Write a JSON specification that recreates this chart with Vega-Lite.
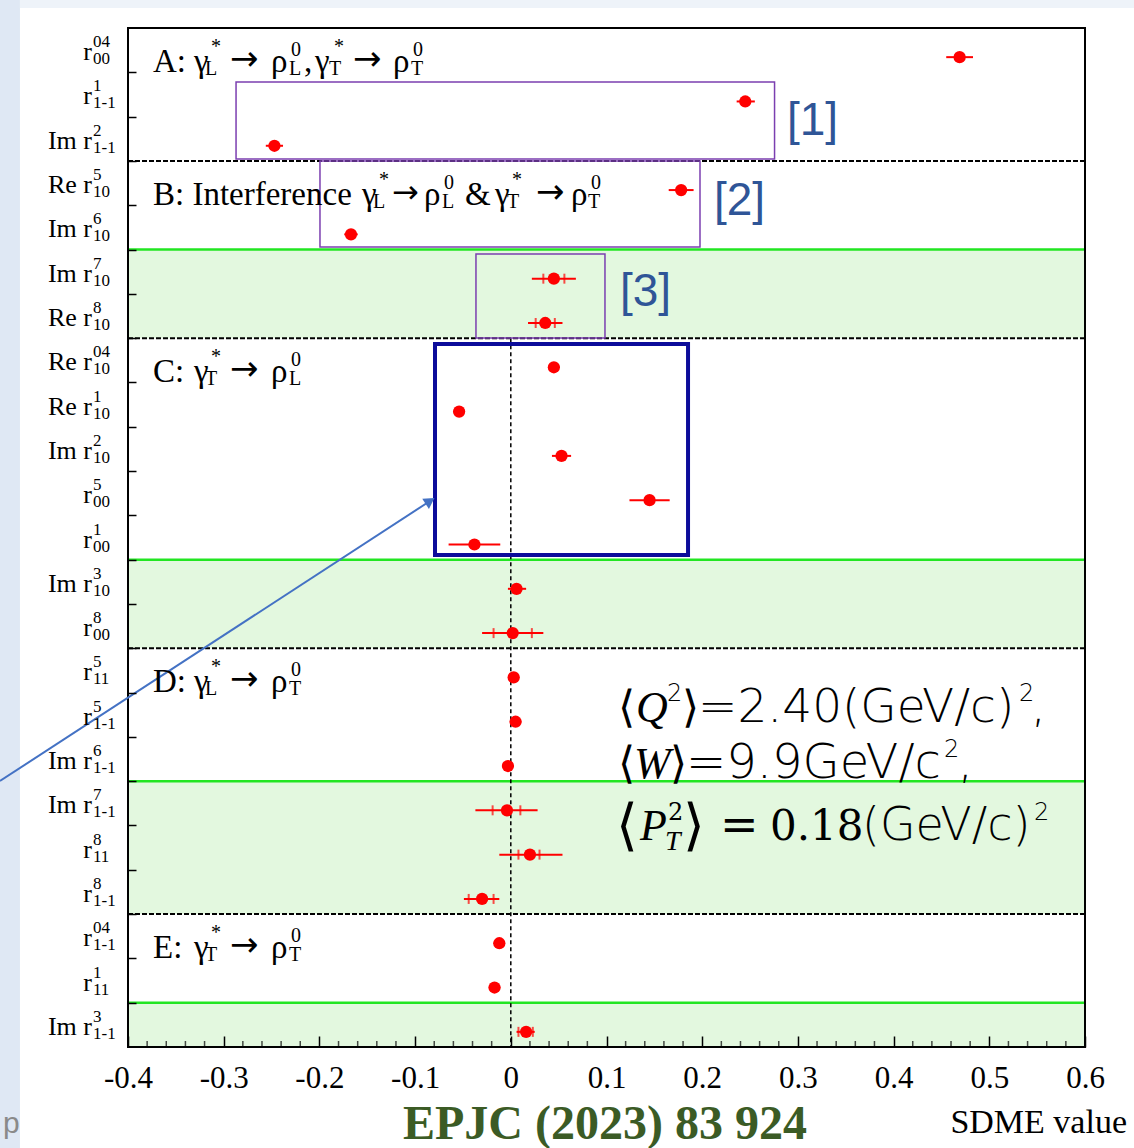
{
  "$schema": "https://vega.github.io/schema/vega-lite/v6.json",
  "width": 957,
  "height": 1019,
  "autosize": {"type": "none"},
  "padding": {"left": 128, "top": 28, "right": 49, "bottom": 101},
  "background": "white",
  "config": {
    "view": {"stroke": null},
    "text": {"font": "Liberation Serif", "color": "black", "align": "left", "baseline": "alphabetic"}
  },
  "datasets": {
    "rows": [
      {"row": 0, "name": "r", "sup": "04", "sub": "00", "v": 0.469, "lo": 0.455, "hi": 0.483},
      {"row": 1, "name": "r", "sup": "1", "sub": "1-1", "v": 0.245, "lo": 0.236, "hi": 0.255},
      {"row": 2, "name": "Im r", "sup": "2", "sub": "1-1", "v": -0.247, "lo": -0.256, "hi": -0.238},
      {"row": 3, "name": "Re r", "sup": "5", "sub": "10", "v": 0.178, "lo": 0.165, "hi": 0.191},
      {"row": 4, "name": "Im r", "sup": "6", "sub": "10", "v": -0.167, "lo": -0.174, "hi": -0.16},
      {"row": 5, "name": "Im r", "sup": "7", "sub": "10", "v": 0.045, "lo": 0.022, "hi": 0.068, "slo": 0.034, "shi": 0.056},
      {"row": 6, "name": "Re r", "sup": "8", "sub": "10", "v": 0.036, "lo": 0.018, "hi": 0.054, "slo": 0.026, "shi": 0.046},
      {"row": 7, "name": "Re r", "sup": "04", "sub": "10", "v": 0.045, "lo": 0.039, "hi": 0.051},
      {"row": 8, "name": "Re r", "sup": "1", "sub": "10", "v": -0.054, "lo": -0.06, "hi": -0.048},
      {"row": 9, "name": "Im r", "sup": "2", "sub": "10", "v": 0.053, "lo": 0.043, "hi": 0.063},
      {"row": 10, "name": "r", "sup": "5", "sub": "00", "v": 0.145, "lo": 0.124, "hi": 0.166},
      {"row": 11, "name": "r", "sup": "1", "sub": "00", "v": -0.038, "lo": -0.065, "hi": -0.011},
      {"row": 12, "name": "Im r", "sup": "3", "sub": "10", "v": 0.006, "lo": -0.003, "hi": 0.016},
      {"row": 13, "name": "r", "sup": "8", "sub": "00", "v": 0.002, "lo": -0.03, "hi": 0.034, "slo": -0.018, "shi": 0.022},
      {"row": 14, "name": "r", "sup": "5", "sub": "11", "v": 0.003, "lo": -0.003, "hi": 0.009},
      {"row": 15, "name": "r", "sup": "5", "sub": "1-1", "v": 0.005, "lo": -0.001, "hi": 0.011},
      {"row": 16, "name": "Im r", "sup": "6", "sub": "1-1", "v": -0.003, "lo": -0.009, "hi": 0.003},
      {"row": 17, "name": "Im r", "sup": "7", "sub": "1-1", "v": -0.004, "lo": -0.037, "hi": 0.028, "slo": -0.019, "shi": 0.01},
      {"row": 18, "name": "r", "sup": "8", "sub": "11", "v": 0.02, "lo": -0.012, "hi": 0.054, "slo": 0.008, "shi": 0.03},
      {"row": 19, "name": "r", "sup": "8", "sub": "1-1", "v": -0.03, "lo": -0.049, "hi": -0.012, "slo": -0.044, "shi": -0.018},
      {"row": 20, "name": "r", "sup": "04", "sub": "1-1", "v": -0.012, "lo": -0.018, "hi": -0.006},
      {"row": 21, "name": "r", "sup": "1", "sub": "11", "v": -0.017, "lo": -0.023, "hi": -0.011},
      {"row": 22, "name": "Im r", "sup": "3", "sub": "1-1", "v": 0.016, "lo": 0.006, "hi": 0.025, "slo": 0.008, "shi": 0.023}
    ],
    "groups": [
      {"row": 0, "tag": "A:", "from": "L", "to": "L"},
      {"row": 7, "tag": "C:", "from": "T", "to": "L"},
      {"row": 14, "tag": "D:", "from": "L", "to": "T"},
      {"row": 20, "tag": "E:", "from": "T", "to": "T"}
    ],
    "bands": [
      {"first": 5, "last": 6},
      {"first": 12, "last": 13},
      {"first": 17, "last": 19},
      {"first": 22, "last": 22}
    ],
    "seps": [{"after": 2}, {"after": 6}, {"after": 13}, {"after": 19}],
    "minorTicks": [
      {"at": -0.38}, {"at": -0.36}, {"at": -0.34}, {"at": -0.32},
      {"at": -0.28}, {"at": -0.26}, {"at": -0.24}, {"at": -0.22},
      {"at": -0.18}, {"at": -0.16}, {"at": -0.14}, {"at": -0.12},
      {"at": -0.08}, {"at": -0.06}, {"at": -0.04}, {"at": -0.02},
      {"at": 0.02}, {"at": 0.04}, {"at": 0.06}, {"at": 0.08},
      {"at": 0.12}, {"at": 0.14}, {"at": 0.16}, {"at": 0.18},
      {"at": 0.22}, {"at": 0.24}, {"at": 0.26}, {"at": 0.28},
      {"at": 0.32}, {"at": 0.34}, {"at": 0.36}, {"at": 0.38},
      {"at": 0.42}, {"at": 0.44}, {"at": 0.46}, {"at": 0.48},
      {"at": 0.52}, {"at": 0.54}, {"at": 0.56}, {"at": 0.58}
    ],
    "one": [{}]
  },
  "layer": [
    {
      "data": {"name": "one"},
      "mark": {"type": "rect", "fill": "#dfe8f4"},
      "encoding": {
        "x": {"datum": -0.5338},
        "x2": {"datum": -0.5129},
        "y": {"datum": -1.132},
        "y2": {"datum": 24.78}
      }
    },
    {
      "data": {"name": "one"},
      "mark": {"type": "rect", "fill": "#eef3f9"},
      "encoding": {
        "x": {"datum": -0.5129},
        "x2": {"datum": 0.6512},
        "y": {"datum": -1.132},
        "y2": {"datum": -0.951}
      }
    },
    {
      "data": {"name": "bands"},
      "mark": {"type": "rect", "fill": "#e3f8df", "yOffset": -22.15, "y2Offset": 22.15},
      "encoding": {
        "x": {"datum": -0.4},
        "x2": {"datum": 0.6},
        "y": {"field": "first", "type": "quantitative", "title": null},
        "y2": {"field": "last"}
      }
    },
    {
      "data": {"name": "bands"},
      "mark": {"type": "rule", "stroke": "#22e622", "strokeWidth": 2.5, "yOffset": -22.15},
      "encoding": {
        "x": {"datum": -0.4},
        "x2": {"datum": 0.6},
        "y": {"field": "first", "type": "quantitative", "title": null}
      }
    },
    {
      "data": {"name": "seps"},
      "mark": {"type": "rule", "stroke": "black", "strokeWidth": 2, "strokeDash": [5, 2], "yOffset": 22.15},
      "encoding": {
        "x": {"datum": -0.4},
        "x2": {"datum": 0.6},
        "y": {"field": "after", "type": "quantitative", "title": null}
      }
    },
    {
      "data": {"name": "one"},
      "mark": {"type": "rule", "stroke": "black", "strokeWidth": 1.5, "strokeDash": [4, 3]},
      "encoding": {
        "x": {"datum": 0},
        "y": {"datum": 6.5},
        "y2": {"datum": 22.5}
      }
    },
    {
      "data": {"name": "minorTicks"},
      "mark": {"type": "tick", "orient": "vertical", "color": "black", "size": 6, "thickness": 1.5, "yOffset": -3},
      "encoding": {
        "x": {"field": "at", "type": "quantitative", "title": null},
        "y": {"datum": 22.5}
      }
    },
    {
      "data": {"name": "one"},
      "mark": {"type": "rect", "fillOpacity": 0, "stroke": "black", "strokeWidth": 2},
      "encoding": {
        "x": {"datum": -0.4},
        "x2": {"datum": 0.6},
        "y": {"datum": -0.5},
        "y2": {"datum": 22.5}
      }
    },
    {
      "data": {"name": "one"},
      "mark": {"type": "rect", "fillOpacity": 0, "stroke": "#7b3fb0", "strokeWidth": 1.5},
      "encoding": {"x": {"datum": -0.2871}, "x2": {"datum": 0.2756}, "y": {"datum": 0.719}, "y2": {"datum": 2.457}}
    },
    {
      "data": {"name": "one"},
      "mark": {"type": "rect", "fillOpacity": 0, "stroke": "#7b3fb0", "strokeWidth": 1.5},
      "encoding": {"x": {"datum": -0.1994}, "x2": {"datum": 0.1977}, "y": {"datum": 2.502}, "y2": {"datum": 4.443}}
    },
    {
      "data": {"name": "one"},
      "mark": {"type": "rect", "fillOpacity": 0, "stroke": "#7b3fb0", "strokeWidth": 1.5},
      "encoding": {"x": {"datum": -0.0364}, "x2": {"datum": 0.0984}, "y": {"datum": 4.601}, "y2": {"datum": 6.497}}
    },
    {
      "data": {"name": "one"},
      "mark": {"type": "rect", "fillOpacity": 0, "stroke": "#0c0c9a", "strokeWidth": 4},
      "encoding": {"x": {"datum": -0.0792}, "x2": {"datum": 0.1852}, "y": {"datum": 6.632}, "y2": {"datum": 11.395}}
    },
    {
      "data": {"name": "one"},
      "mark": {"type": "rule", "stroke": "#4472c4", "strokeWidth": 2},
      "encoding": {"x": {"datum": -0.5338}, "x2": {"datum": -0.0844}, "y": {"datum": 16.496}, "y2": {"datum": 10.176}}
    },
    {
      "data": {"name": "one"},
      "mark": {"type": "point", "shape": "triangle-right", "filled": true, "color": "#4472c4", "size": 150, "angle": 327, "opacity": 1},
      "encoding": {"x": {"datum": -0.0844}, "y": {"datum": 10.176}}
    },
    {
      "data": {"name": "rows"},
      "mark": {"type": "rule", "color": "red", "strokeWidth": 2, "yOffset": 7},
      "encoding": {
        "x": {"field": "lo", "type": "quantitative", "title": null},
        "x2": {"field": "hi"},
        "y": {"field": "row", "type": "quantitative", "title": null}
      }
    },
    {
      "data": {"name": "rows"},
      "mark": {"type": "tick", "color": "red", "thickness": 2, "size": 10, "orient": "vertical", "yOffset": 7},
      "encoding": {
        "x": {"field": "slo", "type": "quantitative", "title": null},
        "y": {"field": "row", "type": "quantitative", "title": null}
      }
    },
    {
      "data": {"name": "rows"},
      "mark": {"type": "tick", "color": "red", "thickness": 2, "size": 10, "orient": "vertical", "yOffset": 7},
      "encoding": {
        "x": {"field": "shi", "type": "quantitative", "title": null},
        "y": {"field": "row", "type": "quantitative", "title": null}
      }
    },
    {
      "data": {"name": "rows"},
      "mark": {"type": "point", "filled": true, "color": "red", "size": 150, "opacity": 1, "yOffset": 7},
      "encoding": {
        "x": {
          "field": "v", "type": "quantitative", "title": null,
          "scale": {"domain": [-0.4, 0.6], "nice": false, "zero": false},
          "axis": {
            "orient": "bottom", "offset": -11, "zindex": 1, "domain": false, "grid": false, "title": null,
            "values": [-0.4, -0.3, -0.2, -0.1, 0, 0.1, 0.2, 0.3, 0.4, 0.5, 0.6],
            "ticks": true, "tickSize": 11, "tickColor": "black", "tickWidth": 1.5,
            "labelExpr": "(datum.value < -0.001 ? '-' : '') + format(abs(datum.value), '.1~f')",
            "labelFont": "Liberation Serif", "labelFontSize": 31, "labelColor": "black",
            "labelBaseline": "alphabetic", "labelPadding": 40, "labelOverlap": false, "labelFlush": false, "labelBound": false
          }
        },
        "y": {
          "field": "row", "type": "quantitative", "title": null,
          "scale": {"domain": [-0.5, 22.5], "reverse": true, "nice": false, "zero": false},
          "axis": {"orient": "left", "offset": -8, "values": [0.5, 1.5, 2.5, 3.5, 4.5, 5.5, 6.5, 7.5, 8.5, 9.5, 10.5, 11.5, 12.5, 13.5, 14.5, 15.5, 16.5, 17.5, 18.5, 19.5, 20.5, 21.5], "zindex": 1, "domain": false, "grid": false, "labels": false, "ticks": true, "tickSize": 8, "tickColor": "black", "tickWidth": 1.5, "title": null}
        }
      }
    },
    {
      "data": {"name": "rows"},
      "mark": {"type": "text", "align": "right", "fontSize": 26, "dx": -36, "dy": 10},
      "encoding": {"x": {"datum": -0.4}, "y": {"field": "row", "type": "quantitative", "title": null}, "text": {"field": "name"}}
    },
    {
      "data": {"name": "rows"},
      "mark": {"type": "text", "fontSize": 17, "dx": -35, "dy": -3},
      "encoding": {"x": {"datum": -0.4}, "y": {"field": "row", "type": "quantitative", "title": null}, "text": {"field": "sup"}}
    },
    {
      "data": {"name": "rows"},
      "mark": {"type": "text", "fontSize": 17, "dx": -35, "dy": 14},
      "encoding": {"x": {"datum": -0.4}, "y": {"field": "row", "type": "quantitative", "title": null}, "text": {"field": "sub"}}
    },
    {
      "data": {"name": "groups"},
      "mark": {"type": "text", "fontSize": 33, "dx": 25, "dy": 22},
      "encoding": {"x": {"datum": -0.4}, "y": {"field": "row", "type": "quantitative", "title": null}, "text": {"field": "tag"}}
    },
    {
      "data": {"name": "groups"},
      "mark": {"type": "text", "text": "γ", "fontSize": 33, "dx": 66, "dy": 22},
      "encoding": {"x": {"datum": -0.4}, "y": {"field": "row", "type": "quantitative", "title": null}}
    },
    {
      "data": {"name": "groups"},
      "mark": {"type": "text", "text": "*", "fontSize": 20, "dx": 83, "dy": 3},
      "encoding": {"x": {"datum": -0.4}, "y": {"field": "row", "type": "quantitative", "title": null}}
    },
    {
      "data": {"name": "groups"},
      "mark": {"type": "text", "fontSize": 20, "dx": 77, "dy": 25},
      "encoding": {"x": {"datum": -0.4}, "y": {"field": "row", "type": "quantitative", "title": null}, "text": {"field": "from"}}
    },
    {
      "data": {"name": "groups"},
      "mark": {"type": "text", "text": "→", "font": "DejaVu Sans", "fontSize": 34, "dx": 102, "dy": 20},
      "encoding": {"x": {"datum": -0.4}, "y": {"field": "row", "type": "quantitative", "title": null}}
    },
    {
      "data": {"name": "groups"},
      "mark": {"type": "text", "text": "ρ", "fontSize": 33, "dx": 143, "dy": 22},
      "encoding": {"x": {"datum": -0.4}, "y": {"field": "row", "type": "quantitative", "title": null}}
    },
    {
      "data": {"name": "groups"},
      "mark": {"type": "text", "text": "0", "fontSize": 20, "dx": 163, "dy": 6},
      "encoding": {"x": {"datum": -0.4}, "y": {"field": "row", "type": "quantitative", "title": null}}
    },
    {
      "data": {"name": "groups"},
      "mark": {"type": "text", "fontSize": 20, "dx": 161, "dy": 25},
      "encoding": {"x": {"datum": -0.4}, "y": {"field": "row", "type": "quantitative", "title": null}, "text": {"field": "to"}}
    },
    {"data": {"name": "one"}, "mark": {"type": "text", "text": ",", "fontSize": 33, "dx": 176, "dy": 22}, "encoding": {"x": {"datum": -0.4}, "y": {"datum": 0}}},
    {"data": {"name": "one"}, "mark": {"type": "text", "text": "γ", "fontSize": 33, "dx": 187, "dy": 22}, "encoding": {"x": {"datum": -0.4}, "y": {"datum": 0}}},
    {"data": {"name": "one"}, "mark": {"type": "text", "text": "*", "fontSize": 20, "dx": 206, "dy": 3}, "encoding": {"x": {"datum": -0.4}, "y": {"datum": 0}}},
    {"data": {"name": "one"}, "mark": {"type": "text", "text": "T", "fontSize": 20, "dx": 201, "dy": 25}, "encoding": {"x": {"datum": -0.4}, "y": {"datum": 0}}},
    {"data": {"name": "one"}, "mark": {"type": "text", "text": "→", "font": "DejaVu Sans", "fontSize": 34, "dx": 225, "dy": 20}, "encoding": {"x": {"datum": -0.4}, "y": {"datum": 0}}},
    {"data": {"name": "one"}, "mark": {"type": "text", "text": "ρ", "fontSize": 33, "dx": 265, "dy": 22}, "encoding": {"x": {"datum": -0.4}, "y": {"datum": 0}}},
    {"data": {"name": "one"}, "mark": {"type": "text", "text": "0", "fontSize": 20, "dx": 285, "dy": 6}, "encoding": {"x": {"datum": -0.4}, "y": {"datum": 0}}},
    {"data": {"name": "one"}, "mark": {"type": "text", "text": "T", "fontSize": 20, "dx": 283, "dy": 25}, "encoding": {"x": {"datum": -0.4}, "y": {"datum": 0}}},
    {"data": {"name": "one"}, "mark": {"type": "text", "text": "B: Interference", "fontSize": 33, "dx": 25, "dy": 22}, "encoding": {"x": {"datum": -0.4}, "y": {"datum": 3}}},
    {"data": {"name": "one"}, "mark": {"type": "text", "text": "γ", "fontSize": 33, "dx": 234, "dy": 22}, "encoding": {"x": {"datum": -0.4}, "y": {"datum": 3}}},
    {"data": {"name": "one"}, "mark": {"type": "text", "text": "*", "fontSize": 20, "dx": 251, "dy": 3}, "encoding": {"x": {"datum": -0.4}, "y": {"datum": 3}}},
    {"data": {"name": "one"}, "mark": {"type": "text", "text": "L", "fontSize": 20, "dx": 245, "dy": 25}, "encoding": {"x": {"datum": -0.4}, "y": {"datum": 3}}},
    {"data": {"name": "one"}, "mark": {"type": "text", "text": "→", "font": "DejaVu Sans", "fontSize": 32, "dx": 264, "dy": 20}, "encoding": {"x": {"datum": -0.4}, "y": {"datum": 3}}},
    {"data": {"name": "one"}, "mark": {"type": "text", "text": "ρ", "fontSize": 33, "dx": 296, "dy": 22}, "encoding": {"x": {"datum": -0.4}, "y": {"datum": 3}}},
    {"data": {"name": "one"}, "mark": {"type": "text", "text": "0", "fontSize": 20, "dx": 316, "dy": 6}, "encoding": {"x": {"datum": -0.4}, "y": {"datum": 3}}},
    {"data": {"name": "one"}, "mark": {"type": "text", "text": "L", "fontSize": 20, "dx": 314, "dy": 25}, "encoding": {"x": {"datum": -0.4}, "y": {"datum": 3}}},
    {"data": {"name": "one"}, "mark": {"type": "text", "text": "&", "fontSize": 33, "dx": 337, "dy": 22}, "encoding": {"x": {"datum": -0.4}, "y": {"datum": 3}}},
    {"data": {"name": "one"}, "mark": {"type": "text", "text": "γ", "fontSize": 33, "dx": 367, "dy": 22}, "encoding": {"x": {"datum": -0.4}, "y": {"datum": 3}}},
    {"data": {"name": "one"}, "mark": {"type": "text", "text": "*", "fontSize": 20, "dx": 384, "dy": 3}, "encoding": {"x": {"datum": -0.4}, "y": {"datum": 3}}},
    {"data": {"name": "one"}, "mark": {"type": "text", "text": "T", "fontSize": 20, "dx": 379, "dy": 25}, "encoding": {"x": {"datum": -0.4}, "y": {"datum": 3}}},
    {"data": {"name": "one"}, "mark": {"type": "text", "text": "→", "font": "DejaVu Sans", "fontSize": 34, "dx": 408, "dy": 20}, "encoding": {"x": {"datum": -0.4}, "y": {"datum": 3}}},
    {"data": {"name": "one"}, "mark": {"type": "text", "text": "ρ", "fontSize": 33, "dx": 443, "dy": 22}, "encoding": {"x": {"datum": -0.4}, "y": {"datum": 3}}},
    {"data": {"name": "one"}, "mark": {"type": "text", "text": "0", "fontSize": 20, "dx": 463, "dy": 6}, "encoding": {"x": {"datum": -0.4}, "y": {"datum": 3}}},
    {"data": {"name": "one"}, "mark": {"type": "text", "text": "T", "fontSize": 20, "dx": 460, "dy": 25}, "encoding": {"x": {"datum": -0.4}, "y": {"datum": 3}}},
    {"data": {"name": "one"}, "mark": {"type": "text", "text": "[1]", "font": "Liberation Sans Narrow, Liberation Sans", "fontSize": 46, "color": "#2f5597", "baseline": "middle", "dx": 659, "dy": 4}, "encoding": {"x": {"datum": -0.4}, "y": {"datum": 1.5}}},
    {"data": {"name": "one"}, "mark": {"type": "text", "text": "[2]", "font": "Liberation Sans Narrow, Liberation Sans", "fontSize": 46, "color": "#2f5597", "baseline": "middle", "dx": 586, "dy": -4}, "encoding": {"x": {"datum": -0.4}, "y": {"datum": 3.5}}},
    {"data": {"name": "one"}, "mark": {"type": "text", "text": "[3]", "font": "Liberation Sans Narrow, Liberation Sans", "fontSize": 46, "color": "#2f5597", "baseline": "middle", "dx": 492, "dy": -2}, "encoding": {"x": {"datum": -0.4}, "y": {"datum": 5.5}}},
    {"data": {"name": "one"}, "mark": {"type": "text", "text": "⟨", "font": "DejaVu Sans", "fontWeight": 200, "fontSize": 44, "dx": 490, "dy": 7}, "encoding": {"x": {"datum": -0.4}, "y": {"datum": 15}}},
    {"data": {"name": "one"}, "mark": {"type": "text", "text": "Q", "fontStyle": "italic", "fontSize": 44, "dx": 508, "dy": 7}, "encoding": {"x": {"datum": -0.4}, "y": {"datum": 15}}},
    {"data": {"name": "one"}, "mark": {"type": "text", "text": "2", "font": "DejaVu Sans", "fontWeight": 200, "fontSize": 24, "dx": 539, "dy": -14}, "encoding": {"x": {"datum": -0.4}, "y": {"datum": 15}}},
    {"data": {"name": "one"}, "mark": {"type": "text", "text": "⟩", "font": "DejaVu Sans", "fontWeight": 200, "fontSize": 44, "dx": 554, "dy": 7}, "encoding": {"x": {"datum": -0.4}, "y": {"datum": 15}}},
    {"data": {"name": "one"}, "mark": {"type": "text", "text": "=2.40(GeV/c)", "font": "DejaVu Sans", "fontWeight": 200, "fontSize": 47, "dx": 570, "dy": 7}, "encoding": {"x": {"datum": -0.4}, "y": {"datum": 15}}},
    {"data": {"name": "one"}, "mark": {"type": "text", "text": "2", "font": "DejaVu Sans", "fontWeight": 200, "fontSize": 24, "dx": 891, "dy": -14}, "encoding": {"x": {"datum": -0.4}, "y": {"datum": 15}}},
    {"data": {"name": "one"}, "mark": {"type": "text", "text": ",", "font": "DejaVu Sans", "fontWeight": 200, "fontSize": 47, "dx": 903, "dy": 7}, "encoding": {"x": {"datum": -0.4}, "y": {"datum": 15}}},
    {"data": {"name": "one"}, "mark": {"type": "text", "text": "⟨", "font": "DejaVu Sans", "fontWeight": 200, "fontSize": 44, "dx": 490, "dy": 19}, "encoding": {"x": {"datum": -0.4}, "y": {"datum": 16}}},
    {"data": {"name": "one"}, "mark": {"type": "text", "text": "W", "fontStyle": "italic", "fontSize": 44, "dx": 506, "dy": 19}, "encoding": {"x": {"datum": -0.4}, "y": {"datum": 16}}},
    {"data": {"name": "one"}, "mark": {"type": "text", "text": "⟩", "font": "DejaVu Sans", "fontWeight": 200, "fontSize": 44, "dx": 542, "dy": 19}, "encoding": {"x": {"datum": -0.4}, "y": {"datum": 16}}},
    {"data": {"name": "one"}, "mark": {"type": "text", "text": "=9.9GeV/c", "font": "DejaVu Sans", "fontWeight": 200, "fontSize": 48, "dx": 558, "dy": 19}, "encoding": {"x": {"datum": -0.4}, "y": {"datum": 16}}},
    {"data": {"name": "one"}, "mark": {"type": "text", "text": "2", "font": "DejaVu Sans", "fontWeight": 200, "fontSize": 24, "dx": 816, "dy": -2}, "encoding": {"x": {"datum": -0.4}, "y": {"datum": 16}}},
    {"data": {"name": "one"}, "mark": {"type": "text", "text": ",", "font": "DejaVu Sans", "fontWeight": 200, "fontSize": 47, "dx": 830, "dy": 19}, "encoding": {"x": {"datum": -0.4}, "y": {"datum": 16}}},
    {"data": {"name": "one"}, "mark": {"type": "text", "text": "⟨", "font": "DejaVu Sans", "fontWeight": 200, "fontSize": 56, "dx": 488, "dy": -4}, "encoding": {"x": {"datum": -0.4}, "y": {"datum": 18}}},
    {"data": {"name": "one"}, "mark": {"type": "text", "text": "P", "fontStyle": "italic", "fontSize": 44, "dx": 512, "dy": -8}, "encoding": {"x": {"datum": -0.4}, "y": {"datum": 18}}},
    {"data": {"name": "one"}, "mark": {"type": "text", "text": "2", "font": "DejaVu Serif", "fontSize": 24, "dx": 540, "dy": -28}, "encoding": {"x": {"datum": -0.4}, "y": {"datum": 18}}},
    {"data": {"name": "one"}, "mark": {"type": "text", "text": "T", "fontStyle": "italic", "fontSize": 28, "dx": 537, "dy": 2}, "encoding": {"x": {"datum": -0.4}, "y": {"datum": 18}}},
    {"data": {"name": "one"}, "mark": {"type": "text", "text": "⟩", "font": "DejaVu Sans", "fontWeight": 200, "fontSize": 56, "dx": 555, "dy": -4}, "encoding": {"x": {"datum": -0.4}, "y": {"datum": 18}}},
    {"data": {"name": "one"}, "mark": {"type": "text", "text": "=", "font": "DejaVu Serif", "fontSize": 46, "dx": 592, "dy": -8}, "encoding": {"x": {"datum": -0.4}, "y": {"datum": 18}}},
    {"data": {"name": "one"}, "mark": {"type": "text", "text": "0.18", "font": "DejaVu Serif", "fontSize": 42, "dx": 642, "dy": -8}, "encoding": {"x": {"datum": -0.4}, "y": {"datum": 18}}},
    {"data": {"name": "one"}, "mark": {"type": "text", "text": "(GeV/c)", "font": "DejaVu Sans", "fontWeight": 200, "fontSize": 46, "dx": 734, "dy": -8}, "encoding": {"x": {"datum": -0.4}, "y": {"datum": 18}}},
    {"data": {"name": "one"}, "mark": {"type": "text", "text": "2", "font": "DejaVu Sans", "fontWeight": 200, "fontSize": 24, "dx": 906, "dy": -28}, "encoding": {"x": {"datum": -0.4}, "y": {"datum": 18}}},
    {"data": {"name": "one"}, "mark": {"type": "text", "text": "EPJC (2023) 83 924", "fontSize": 48, "fontWeight": "bold", "color": "#3b5b25", "align": "center", "dx": 477, "dy": 92}, "encoding": {"x": {"datum": -0.4}, "y": {"datum": 22.5}}},
    {"data": {"name": "one"}, "mark": {"type": "text", "text": "SDME value", "fontSize": 34, "align": "right", "dx": 999, "dy": 86}, "encoding": {"x": {"datum": -0.4}, "y": {"datum": 22.5}}},
    {"data": {"name": "one"}, "mark": {"type": "text", "text": "p", "font": "Liberation Sans", "fontSize": 30, "color": "#8a8a8a", "dx": -125, "dy": 86}, "encoding": {"x": {"datum": -0.4}, "y": {"datum": 22.5}}}
  ]
}
